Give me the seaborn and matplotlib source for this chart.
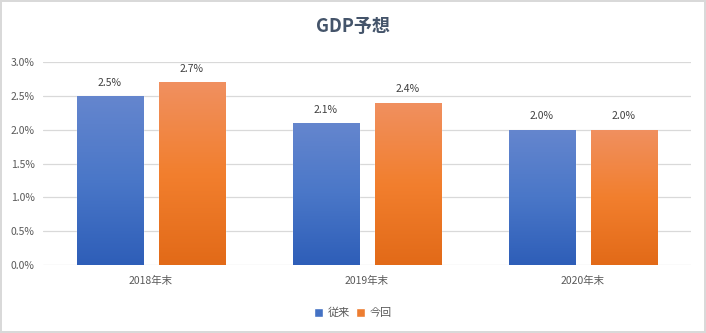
import numpy as np
import pandas as pd
import matplotlib
matplotlib.use("Agg")
import matplotlib.pyplot as plt
import seaborn as sns
from matplotlib.ticker import FuncFormatter
from matplotlib.colors import LinearSegmentedColormap, to_hex

categories = ["2018年末", "2019年末", "2020年末"]
series_names = ["従来", "今回"]
values_prev = [2.5, 2.1, 2.0]
values_now = [2.7, 2.4, 2.0]
title = "GDP予想"

df = pd.DataFrame({
    "cat": categories * 2,
    "series": [series_names[0]] * 3 + [series_names[1]] * 3,
    "val": values_prev + values_now,
})

sns.set_theme(style="white")
plt.rcParams['font.family'] = ['Noto Sans CJK JP', 'DejaVu Sans']

fig = plt.figure(figsize=(7.06, 3.33), dpi=100)
fig.patch.set_facecolor("white")
fig.patch.set_edgecolor("#D9D9D9")
fig.patch.set_linewidth(1.5)
ax = fig.add_axes([43/706, 68/333, 648/706, 203/333])

palette = {series_names[0]: "#4472C4", series_names[1]: "#ED7D31"}
sns.barplot(data=df, x="cat", y="val", hue="series", palette=palette,
            width=0.76, gap=0.195, ax=ax, legend=True, saturation=1)

ax.set_ylim(0, 3.0)
ax.set_yticks(np.arange(0, 3.01, 0.5))
ax.yaxis.set_major_formatter(FuncFormatter(lambda v, p: f"{v:.1f}%"))
ax.grid(axis="y", color="#D9D9D9", linewidth=0.9)
ax.set_axisbelow(True)
for s in ax.spines.values():
    s.set_visible(False)
ax.tick_params(axis="both", length=0, labelsize=7.5, labelcolor="#595959", pad=6)
ax.tick_params(axis="x", pad=8)
ax.set_xlabel("")
ax.set_ylabel("")

grads = {
    "#4472c4": LinearSegmentedColormap.from_list("b", ["#2E5EB8", "#4A77C8", "#6586CE"]),
    "#ed7d31": LinearSegmentedColormap.from_list("o", ["#E26A18", "#F27F2E", "#F09060"]),
}
grad = np.linspace(0, 1, 256).reshape(-1, 1)
for cont in ax.containers:
    for bar in cont:
        col = to_hex(bar.get_facecolor()).lower()
        cmap = grads[col]
        x0, y0 = bar.get_x(), bar.get_y()
        w, h = bar.get_width(), bar.get_height()
        im = ax.imshow(grad, cmap=cmap, origin="lower", aspect="auto",
                       extent=[x0, x0 + w, y0, y0 + h], zorder=bar.get_zorder() + 0.1)
        im.set_clip_path(bar)
    ax.bar_label(cont, labels=[f"{v:.1f}%" for v in cont.datavalues],
                 padding=6, fontsize=7.5, color="#404040")
ax.set_xlim(-0.5, 2.5)

handles, labels = ax.get_legend_handles_labels()
ax.get_legend().remove()
leg = fig.legend(handles, labels, loc="center", bbox_to_anchor=(0.5, 1 - 313/333), ncol=2,
                 frameon=False, fontsize=8, handlelength=0.8, handleheight=0.8,
                 handletextpad=0.4, columnspacing=0.6)
for t in leg.get_texts():
    t.set_color("#595959")

fig.text(0.5, 1 - 27/333, title, ha="center", va="center", fontsize=13,
         fontweight="bold", color="#44546A")

fig.savefig("out.png", dpi=100, facecolor="white", edgecolor=fig.get_edgecolor())
